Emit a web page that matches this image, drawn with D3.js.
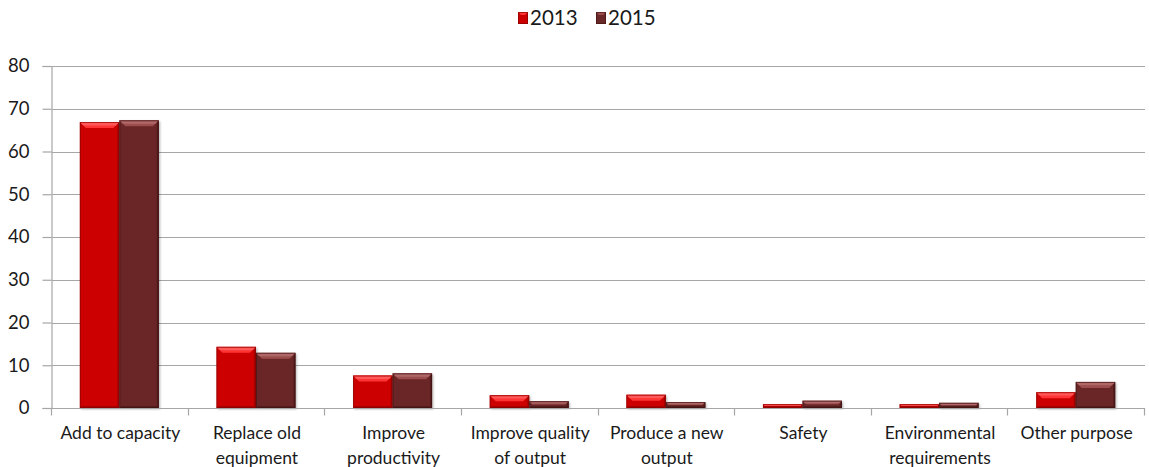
<!DOCTYPE html>
<html>
<head>
<meta charset="utf-8">
<script src="https://cdn.jsdelivr.net/npm/d3@7"></script>
<style>
  html, body { margin: 0; padding: 0; background: #fff; }
  svg { display: block; font-family: Lato, "Open Sans", sans-serif; }
</style>
</head>
<body>
<svg id="chart" width="1149" height="467"></svg>
<script>
// Reasons for investment, share of firms (%)
const categories = [
  ["Add to capacity"],
  ["Replace old", "equipment"],
  ["Improve", "productivity"],
  ["Improve quality", "of output"],
  ["Produce a new", "output"],
  ["Safety"],
  ["Environmental", "requirements"],
  ["Other purpose"]
];
const seriesNames = ["2013", "2015"];
const values2013 = [66.9, 14.3, 7.6, 3.0, 3.1, 0.9, 0.9, 3.7];
const values2015 = [67.3, 12.9, 8.1, 1.6, 1.4, 1.7, 1.2, 6.1];
const yTicks = [0, 10, 20, 30, 40, 50, 60, 70, 80];

const colors = {
  "2013": { base: "#cc0000", top: "#ff3434", hi: "#ff6a6a", dark: "#a80000", edge: "#7a0000" },
  "2015": { base: "#6b2828", top: "#9c4e4e", hi: "#b87272", dark: "#531c1c", edge: "#3a1010" }
};

const svg = d3.select("#chart");
const margin = { left: 52, right: 4, top: 66, bottom: 59 };
const W = +svg.attr("width"), H = +svg.attr("height");
const x0 = d3.scaleBand()
  .domain(d3.range(categories.length))
  .range([margin.left, W - margin.right])
  .paddingInner(0).paddingOuter(0);
const x1 = d3.scaleBand()
  .domain(seriesNames)
  .range([0, x0.bandwidth()])
  .paddingOuter(0.73).paddingInner(0);
const y = d3.scaleLinear().domain([0, 80]).range([H - margin.bottom, margin.top]);

const rows = categories.map((c, i) => ({
  i, label: c,
  vals: [{ s: "2013", v: values2013[i] }, { s: "2015", v: values2015[i] }]
}));

const defs = svg.append("defs");
const sh = defs.append("filter").attr("id", "shadow")
  .attr("x", "-10%").attr("y", "-10%").attr("width", "130%").attr("height", "130%");
sh.append("feDropShadow").attr("dx", 1.2).attr("dy", 1.2).attr("stdDeviation", 1)
  .attr("flood-color", "#000").attr("flood-opacity", 0.3);

const pts = a => a.map(p => p.join(",")).join(" ");

// gridlines
const grid = svg.append("g").attr("class", "grid");
grid.selectAll("line").data(yTicks.filter(t => t > 0)).join("line")
  .attr("x1", margin.left).attr("x2", W - margin.right)
  .attr("y1", d => Math.round(y(d)) + 0.5).attr("y2", d => Math.round(y(d)) + 0.5)
  .attr("stroke", "#a6a6a6").attr("stroke-width", 1.2);

// y axis
const yAxis = svg.append("g")
  .attr("transform", `translate(${margin.left - 0.5},0)`)
  .call(d3.axisLeft(y).tickValues(yTicks).tickSize(9).tickPadding(13).tickFormat(d3.format("d")));
yAxis.select(".domain").attr("stroke", "#a6a6a6").attr("stroke-width", 1.2);
yAxis.selectAll(".tick line").attr("stroke", "#a6a6a6").attr("stroke-width", 1.2);
yAxis.selectAll(".tick text").attr("font-size", 18.5).attr("fill", "#1a1a1a")
  .attr("font-family", "Lato, sans-serif");

// bars with bevelled top edge
const groups = svg.append("g").selectAll("g").data(rows).join("g")
  .attr("transform", d => `translate(${x0(d.i) - 1},0)`);

const bars = groups.selectAll("g.bar").data(d => d.vals).join("g").attr("class", "bar");
bars.each(function(d) {
  const g = d3.select(this);
  const c = colors[d.s];
  const bx = x1(d.s), bw = x1.bandwidth();
  const by = y(d.v), bh = y(0) - y(d.v);
  const b = Math.min(6, bh / 2, bw / 2);
  const s = Math.min(2, bh / 2);
  g.append("rect").attr("x", bx).attr("y", by).attr("width", bw).attr("height", bh)
    .attr("fill", c.base).attr("filter", "url(#shadow)");
  // narrow side and bottom faces
  g.append("polygon").attr("points",
    pts([[bx + bw, by], [bx + bw, by + bh], [bx + bw - s, by + bh - s], [bx + bw - s, by + s]]))
    .attr("fill", c.dark);
  g.append("polygon").attr("points",
    pts([[bx, by + bh], [bx + s, by + bh - s], [bx + bw - s, by + bh - s], [bx + bw, by + bh]]))
    .attr("fill", c.dark);
  // top chamfer
  g.append("polygon").attr("points",
    pts([[bx, by], [bx + bw, by], [bx + bw - b, by + b], [bx + b, by + b]]))
    .attr("fill", c.top);
  g.append("polygon").attr("points",
    pts([[bx + 1, by + 1], [bx + bw - 1, by + 1], [bx + bw - 1 - b * 0.4, by + 1 + b * 0.4], [bx + 1 + b * 0.4, by + 1 + b * 0.4]]))
    .attr("fill", c.hi).attr("opacity", 0.7);
  g.append("rect").attr("x", bx + 0.5).attr("y", by + 0.5).attr("width", bw - 1).attr("height", Math.max(0, bh - 1))
    .attr("fill", "none").attr("stroke", c.edge).attr("stroke-width", 1).attr("stroke-opacity", 0.55);
});

// x axis
const xAxis = svg.append("g").attr("transform", `translate(0,${Math.round(y(0)) + 0.5})`);
xAxis.append("line").attr("x1", margin.left).attr("x2", W - margin.right)
  .attr("stroke", "#a6a6a6").attr("stroke-width", 1.2);
const bounds = d3.range(categories.length + 1).map(i =>
  i < categories.length ? x0(i) : x0(i - 1) + x0.bandwidth());
xAxis.selectAll("line.tk").data(bounds).join("line").attr("class", "tk")
  .attr("x1", d => Math.round(d) - 0.5).attr("x2", d => Math.round(d) - 0.5)
  .attr("y1", 0).attr("y2", 7).attr("stroke", "#a6a6a6").attr("stroke-width", 1.2);

const labels = svg.append("g").selectAll("text").data(rows).join("text")
  .attr("x", d => x0(d.i) + x0.bandwidth() / 2)
  .attr("y", y(0) + 31)
  .attr("text-anchor", "middle").attr("font-size", 17.5).attr("fill", "#1a1a1a");
labels.selectAll("tspan").data(d => d.label).join("tspan")
  .attr("x", function() { return d3.select(this.parentNode).attr("x"); })
  .attr("dy", (d, i) => i === 0 ? 0 : 25)
  .text(d => d);

// legend
const legend = svg.append("g").attr("transform", "translate(518,0)");
const li = legend.selectAll("g").data(seriesNames).join("g")
  .attr("transform", (d, i) => `translate(${i * 78},0)`);
li.each(function(s) {
  const g = d3.select(this), c = colors[s];
  const sx = 0, sy = 12, sw = 10, shh = 12, b = 3;
  g.append("rect").attr("x", sx).attr("y", sy).attr("width", sw).attr("height", shh).attr("fill", c.base);
  g.append("polygon").attr("points",
    pts([[sx, sy], [sx + sw, sy], [sx + sw - b, sy + b], [sx + b, sy + b]]))
    .attr("fill", c.top);
  g.append("rect").attr("x", sx + 0.5).attr("y", sy + 0.5).attr("width", sw - 1).attr("height", shh - 1)
    .attr("fill", "none").attr("stroke", c.edge).attr("stroke-opacity", 0.6);
  g.append("text").attr("x", sx + sw + 2).attr("y", sy + 13)
    .attr("font-size", 20.5).attr("fill", "#1a1a1a").text(s);
});
</script>
</body>
</html>
